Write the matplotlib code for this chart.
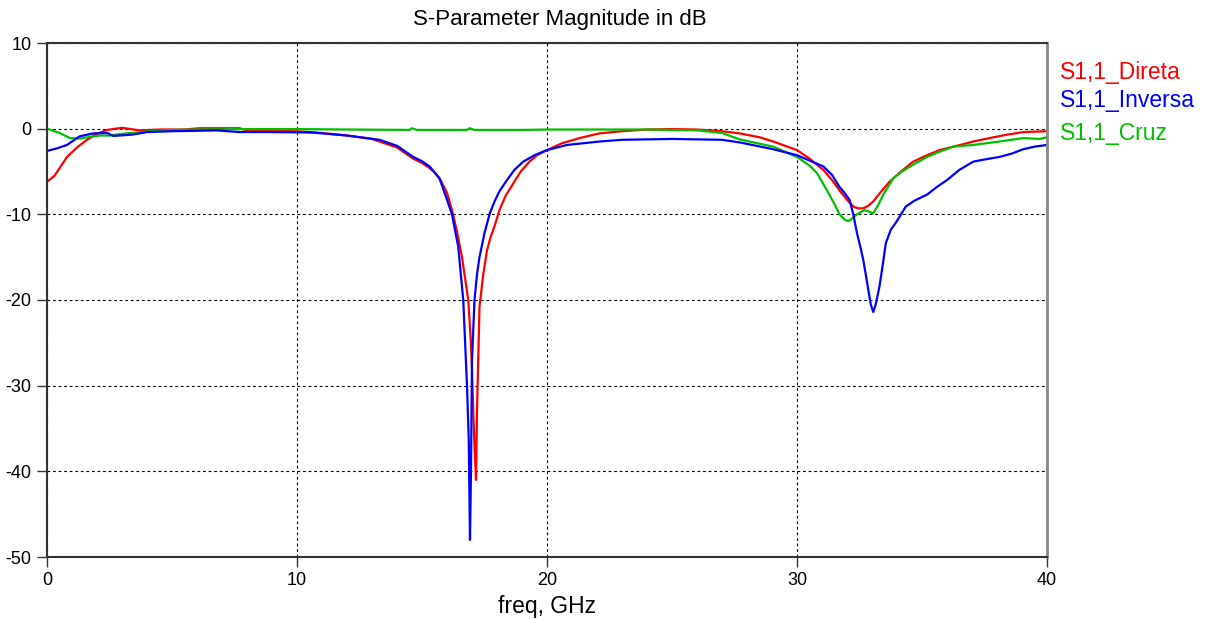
import matplotlib
matplotlib.use("Agg")
import matplotlib.pyplot as plt

# S11 magnitude (dB)
freq_direta = [0, 0.3, 0.8, 1.2, 1.6, 2.0, 2.4, 3.0, 3.7, 4.5, 5.5, 6.1, 7.0, 7.7, 8.0, 9, 10, 11, 12, 13,
               13.3, 14, 14.65, 15.0, 15.3, 15.5, 15.7, 15.85, 16.0, 16.2, 16.4, 16.6, 16.75, 16.85, 16.95,
               17.0, 17.05, 17.1, 17.16, 17.2, 17.3, 17.45, 17.6, 17.75, 17.9, 18.1, 18.35, 18.65, 18.95,
               19.3, 19.6, 20, 20.6, 21.3, 22.1, 23, 24, 25, 26, 27, 27.7, 28.5, 29.05, 30, 30.5, 31.05,
               31.4, 31.7, 32.0, 32.25, 32.45, 32.65, 32.85, 33.05, 33.35, 33.7, 34.2, 34.65, 35.2, 35.7,
               36.4, 37.05, 37.7, 38.4, 39.05, 40]
s11_direta = [-6.2, -5.5, -3.3, -2.2, -1.3, -0.6, -0.15, 0.1, -0.2, -0.1, -0.1, 0.05, 0.05, 0.05, -0.2, -0.25,
              -0.3, -0.5, -0.8, -1.2, -1.5, -2.2, -3.5, -4.0, -4.6, -5.1, -5.8, -6.6, -7.5, -9.5, -12, -15,
              -18, -20, -24.6, -28, -33, -37, -41, -33, -20.8, -17, -14.2, -12.6, -11.4, -9.5, -7.8, -6.4,
              -5.0, -3.85, -3.1, -2.5, -1.7, -1.1, -0.55, -0.3, -0.1, -0.05, -0.1, -0.3, -0.55, -1.0, -1.5,
              -2.5, -3.5, -4.8, -6.0, -7.2, -8.3, -9.1, -9.3, -9.3, -9.0, -8.5, -7.4, -6.2, -4.9, -3.85,
              -3.1, -2.5, -2.0, -1.5, -1.1, -0.7, -0.4, -0.3]

freq_inversa = [0, 0.4, 0.8, 1.3, 1.85, 2.4, 2.65, 3.4, 4.0, 5, 6.8, 7.7, 9, 10.6, 12, 13.3, 14, 14.65, 15.0,
                15.3, 15.7, 16.0, 16.2, 16.45, 16.65, 16.8, 16.87, 16.92, 16.96, 17.0, 17.1, 17.2, 17.3,
                17.5, 17.7, 17.9, 18.1, 18.4, 18.7, 19.05, 19.5, 20, 20.8, 22.1, 23, 25, 27, 27.7, 29.05,
                30, 31.05, 31.4, 31.7, 31.9, 32.1, 32.25, 32.4, 32.55, 32.65, 32.75, 32.85, 32.95, 33.05,
                33.15, 33.3, 33.45, 33.55, 33.75, 33.95, 34.35, 34.7, 35.2, 35.6, 36, 36.5, 37.05, 37.5,
                38.1, 38.6, 39.05, 39.5, 40]
s11_inversa = [-2.6, -2.3, -1.9, -0.9, -0.55, -0.5, -0.85, -0.7, -0.4, -0.3, -0.2, -0.4, -0.4, -0.45, -0.8,
               -1.3, -2.0, -3.3, -3.8, -4.4, -5.8, -8.3, -10, -13.8, -20, -30, -36.3, -48, -40, -27, -20,
               -17, -15, -12.2, -10, -8.5, -7.3, -6, -4.8, -3.85, -3.1, -2.5, -1.9, -1.5, -1.3, -1.2, -1.3,
               -1.6, -2.4, -3.1, -4.4, -5.4, -6.8, -7.5, -8.3, -10, -12.2, -14, -15.3, -17, -18.8, -20.5,
               -21.4, -20.5, -18.4, -15.5, -13.4, -11.8, -11, -9.1, -8.4, -7.7, -6.8, -6, -4.8, -3.85,
               -3.6, -3.3, -2.9, -2.4, -2.1, -1.9]

freq_cruz = [0, 0.5, 0.92, 1.3, 2.1, 2.5, 3.0, 4.1, 5, 6, 8, 10, 12, 14.5, 14.6, 14.8, 16.8, 16.9, 17.1, 19,
             20, 22, 24, 25, 26, 27, 27.7, 29.05, 30, 30.5, 30.8, 31.2, 31.5, 31.7, 31.9, 32.05, 32.2,
             32.4, 32.7, 32.9, 33.05, 33.25, 33.45, 33.85, 34.2, 34.65, 35.2, 35.7, 36.25, 37.05, 38.1,
             39.05, 39.7, 40]
s11_cruz = [0, -0.5, -1.1, -1.15, -0.8, -0.8, -0.6, -0.3, -0.15, -0.1, -0.05, -0.05, -0.1, -0.15, 0.05, -0.15,
            -0.15, 0.05, -0.15, -0.15, -0.1, -0.1, -0.1, -0.15, -0.2, -0.5, -1.25, -2.1, -3.3, -4.3, -5.2,
            -7.2, -8.8, -10, -10.6, -10.8, -10.5, -10, -9.5, -9.7, -9.9, -8.9, -7.7, -5.8, -5.0, -4.2,
            -3.3, -2.7, -2.1, -1.9, -1.5, -1.1, -1.2, -1.0]

labels = ["S1,1_Direta", "S1,1_Inversa", "S1,1_Cruz"]
colors = ["#ff0000", "#0000ff", "#00c000"]

plt.rcParams['font.family'] = ['Liberation Sans', 'DejaVu Sans']
plt.rcParams['axes.unicode_minus'] = False

fig = plt.figure(figsize=(12.09, 6.19), dpi=100)
ax = fig.add_axes([47 / 1209, 62 / 619, 1000 / 1209, 514 / 619])

ax.plot(freq_direta, s11_direta, color=colors[0], lw=1.6)
ax.plot(freq_cruz, s11_cruz, color=colors[2], lw=1.6)
ax.plot(freq_inversa, s11_inversa, color=colors[1], lw=1.6)

ax.set_xlim(0, 40)
ax.set_ylim(-50, 10)
ax.set_xticks([0, 10, 20, 30, 40])
ax.set_yticks([10, 0, -10, -20, -30, -40, -50])
ax.grid(True, color='black', linestyle=(0, (2.5, 2.5)), linewidth=0.8)
ax.tick_params(direction='out', length=7, width=1, color='#333333', pad=4, labelsize=13)

for side in ['left', 'bottom', 'top']:
    ax.spines[side].set_color('#333333')
    ax.spines[side].set_linewidth(1.5)
ax.spines['right'].set_color('#888888')
ax.spines['right'].set_linewidth(2)

# title sits a little right of the axes centre in the original
fig.text(560 / 1209, 1 - 20 / 619, 'S-Parameter Magnitude in dB', fontsize=16, ha='center', va='center')
ax.set_xlabel('freq, GHz', fontsize=16.5, labelpad=4)

for lab, c, ypix in zip(labels, colors, [72, 101, 133]):
    fig.text(1060 / 1209, 1 - ypix / 619, lab, color=c, fontsize=16.5, va='center', ha='left')

fig.savefig('out.png', dpi=100)
